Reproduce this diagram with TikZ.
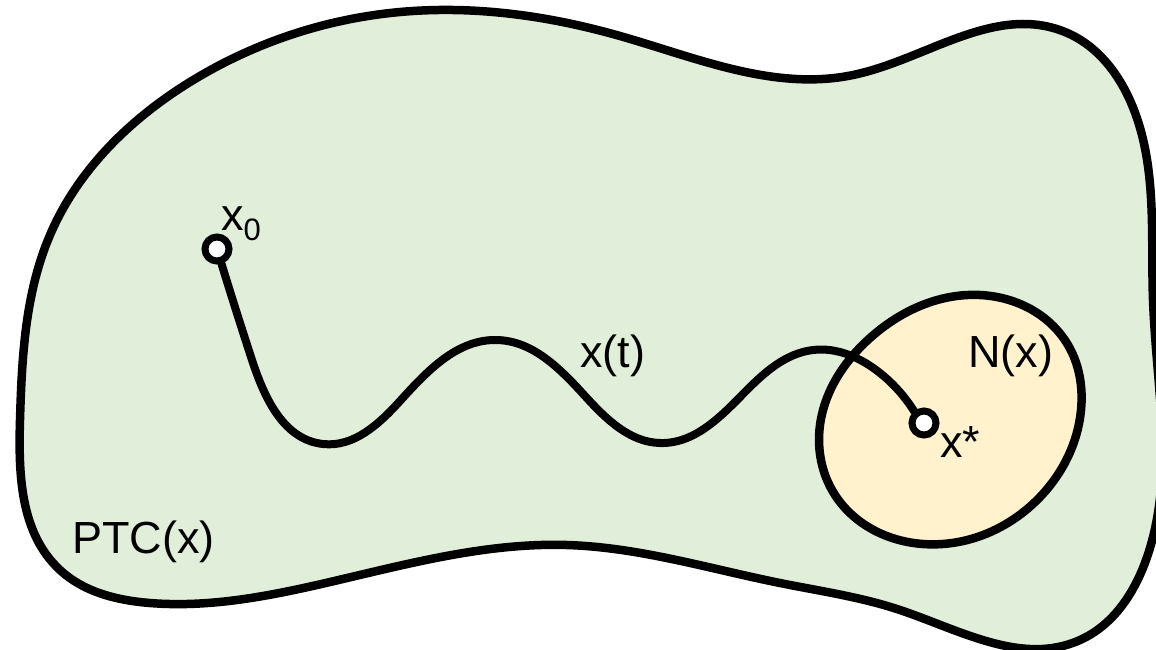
\documentclass[tikz,border=0pt]{standalone}
\usepackage{fontspec}
\setmainfont{Liberation Sans}
\usetikzlibrary{hobby}
\definecolor{regiongreen}{RGB}{225,239,218}
\definecolor{nbhdyellow}{RGB}{255,242,204}
\tikzset{
  outline/.style={draw=black, line width=8.5pt, line join=round},
  pathline/.style={draw=black, line width=8pt, line cap=round},
  endpt/.style={circle, draw=black, fill=white, line width=7pt, minimum size=24pt, inner sep=0pt},
  lbl/.style={anchor=base west, inner sep=0pt, font=\fontsize{45}{54}\selectfont},
}
\begin{document}
\begin{tikzpicture}[x=1pt, y=-1pt]
\useasboundingbox (0,0) rectangle (1156,649);
% region PTC(x)
\path[outline, fill=regiongreen, use Hobby shortcut, closed=true]
 (400,12) .. (620,36) .. (853,75) .. (1065,32) .. (1132,105) .. (1153,300)
 .. (1146,560) .. (1080,640) .. (900,610) .. (780,583) .. (567,545)
 .. (330,582) .. (150,603) .. (60,570) .. (20,420) .. (50,235) .. (190,82);
% neighbourhood N(x)
\path[outline, fill=nbhdyellow, use Hobby shortcut, closed=true]
 (980,295) .. (1068,345) .. (1081,410) .. (1040,497) .. (923,544)
 .. (835,495) .. (820,425) .. (870,338);
% end points
\node[endpt] (x0) at (217,249) {};
\node[endpt] (xs) at (924,423) {};
% trajectory x(t)
\draw[pathline, use Hobby shortcut]
 (x0.-73) .. (252,360) .. (323,444) .. (400,401) .. (497,340) .. (585,396)
 .. (660,443) .. (745,392) .. (813,350) .. (880,373) .. (xs.130);
% labels
\node[lbl] (lx0) at (221,230) {x\raisebox{-10pt}{\fontsize{31}{31}\selectfont 0}};
\node[lbl] (lxt) at (580,367) {x(t)};
\node[lbl] (lnx) at (968,367) {N(x)};
\node[lbl] (lxs) at (940,457) {x*};
\node[lbl] (lptc) at (72,553) {PTC(x)};
\end{tikzpicture}
\end{document}
